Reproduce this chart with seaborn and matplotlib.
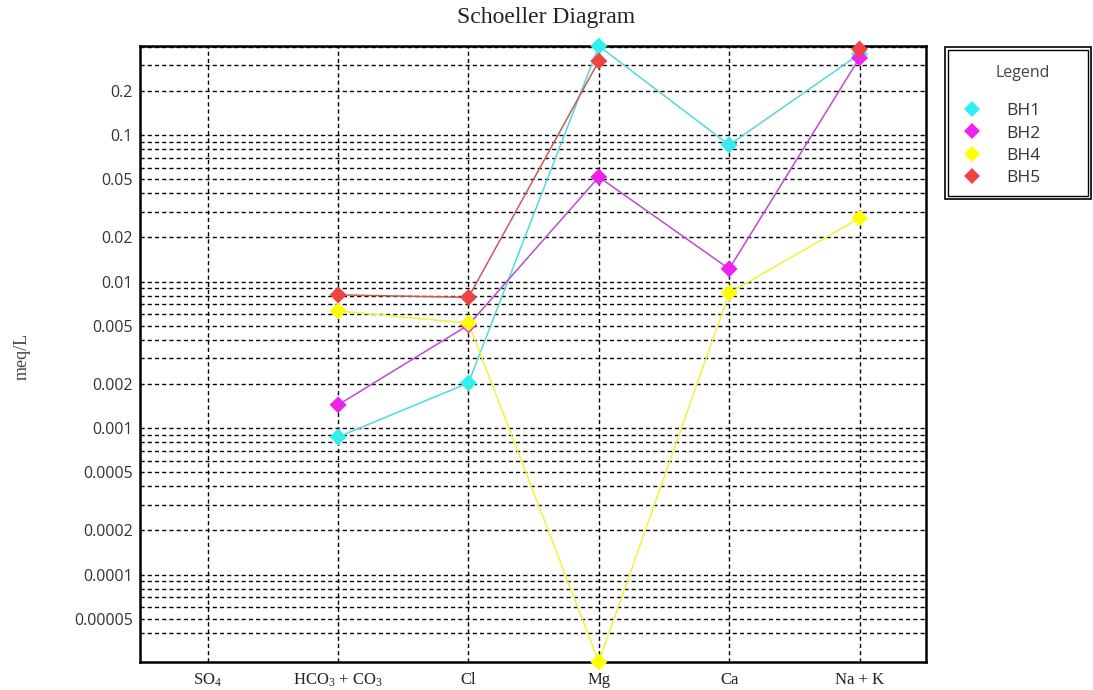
import numpy as np
import pandas as pd
import matplotlib
matplotlib.use("Agg")
import matplotlib.pyplot as plt
import matplotlib.ticker as mticker
from matplotlib.lines import Line2D
from matplotlib.patches import Rectangle
import seaborn as sns

# ions along the x axis, values in meq/L (NaN = not measured)
ions = ["SO$_4$", "HCO$_3$ + CO$_3$", "Cl", "Mg", "Ca", "Na + K"]
samples = ["BH1", "BH2", "BH4", "BH5"]
bh1 = [np.nan, 0.00087, 0.00203, 0.405, 0.0855, 0.357]
bh2 = [np.nan, 0.00144, 0.00505, 0.0517, 0.0122, 0.336]
bh4 = [np.nan, 0.0063, 0.0052, 0.0000253, 0.00835, 0.0271]
bh5 = [np.nan, 0.0081, 0.0078, 0.32, np.nan, 0.386]
ytick_vals = [0.00005, 0.0001, 0.0002, 0.0005, 0.001, 0.002, 0.005,
              0.01, 0.02, 0.05, 0.1, 0.2]
ytick_labels = ["0.00005", "0.0001", "0.0002", "0.0005", "0.001", "0.002",
                "0.005", "0.01", "0.02", "0.05", "0.1", "0.2"]

marker_colors = {"BH1": "#33eeee", "BH2": "#ee22ee", "BH4": "#ffff00", "BH5": "#ee4444"}
line_colors = {"BH1": "#55d8d8", "BH2": "#b84fc8", "BH4": "#f2f23a", "BH5": "#c85a5a"}

# long table; a new segment starts after each gap so lines break at NaN
rows = []
for name, vals in zip(samples, [bh1, bh2, bh4, bh5]):
    seg = 0
    for i, v in enumerate(vals):
        if np.isnan(v):
            seg += 1
            continue
        rows.append({"pos": i, "value": v, "sample": name, "seg": f"{name}_{seg}"})
df = pd.DataFrame(rows)

sns.set_style("white")
plt.rcParams["mathtext.fontset"] = "custom"
plt.rcParams["mathtext.rm"] = "Liberation Serif"
plt.rcParams["mathtext.it"] = "Liberation Serif:italic"

fig = plt.figure(figsize=(10.93, 6.90), dpi=100)
ax = fig.add_axes([140 / 1093, 28 / 690, 786 / 1093, 616 / 690])

sns.lineplot(data=df, x="pos", y="value", hue="sample", units="seg",
             estimator=None, palette=line_colors, lw=1.1, legend=False,
             ax=ax, zorder=3)
sns.scatterplot(data=df, x="pos", y="value", hue="sample", palette=marker_colors,
                marker="D", s=75, linewidth=0, legend=False, ax=ax,
                zorder=4, clip_on=False)

ax.set_yscale("log")
ax.set_ylim(df["value"].min(), df["value"].max())
ax.set_xlim(-0.52, len(ions) - 1 + 0.51)
ax.set_xticks(range(len(ions)))
ax.set_xticklabels(ions, family="Liberation Serif", fontsize=12, color="#222222")
ax.yaxis.set_major_locator(mticker.FixedLocator(ytick_vals))
ax.yaxis.set_major_formatter(mticker.FixedFormatter(ytick_labels))
minor_grid = [m * 10.0 ** e for e in range(-5, 0) for m in range(1, 10) if m * 10.0 ** e >= 4e-5]
ax.yaxis.set_minor_locator(mticker.FixedLocator(minor_grid))
ax.yaxis.set_minor_formatter(mticker.NullFormatter())
for lab in ax.get_yticklabels():
    lab.set_family("Open Sans")
    lab.set_fontsize(11.5)
    lab.set_color("#333333")
ax.tick_params(axis="both", which="both", length=0)
ax.tick_params(axis="y", pad=5)
ax.tick_params(axis="x", pad=7)
ax.set_xlabel("")
ax.set_ylabel("")

grid_kw = dict(color="black", lw=1.0, linestyle=(0, (3, 2.2)))
ax.grid(True, axis="y", which="both", **grid_kw)
ax.grid(True, axis="x", which="major", **grid_kw)
ax.set_axisbelow(True)
for sp in ax.spines.values():
    sp.set_color("black")
    sp.set_linewidth(1.8)

fig.text(0.5, 1 - 18 / 690, "Schoeller Diagram", ha="center", va="center",
         family="Liberation Serif", fontsize=17, color="#222222")
fig.text(22 / 1093, 1 - 356 / 690, "meq/L", rotation=90, ha="center", va="center",
         family="Liberation Serif", fontsize=13, color="#444444")

# legend box with double border
fig.patches.append(Rectangle((945 / 1093, 1 - 199 / 690), 146 / 1093, 152 / 690,
                             transform=fig.transFigure, fill=False, ec="black", lw=1.2))
fig.patches.append(Rectangle((948 / 1093, 1 - 196 / 690), 140 / 1093, 146 / 690,
                             transform=fig.transFigure, fill=False, ec="black", lw=1.0))
fig.text(1023 / 1093, 1 - 73 / 690, "Legend", ha="center", va="center",
         family="Open Sans", fontsize=11.5, color="#444444")
handles = [Line2D([], [], ls="none", marker="D", ms=8, mew=0, color=marker_colors[n])
           for n in samples]
leg = fig.legend(handles, samples, loc="upper left",
                 bbox_to_anchor=(963 / 1093, 1 - 103 / 690), frameon=False,
                 borderpad=0, borderaxespad=0, handlelength=1.0,
                 handletextpad=1.5, labelspacing=0.36,
                 prop={"family": "Open Sans", "size": 12.5})
for t in leg.get_texts():
    t.set_color("#333333")

fig.savefig("out.png", dpi=100, facecolor="white")
